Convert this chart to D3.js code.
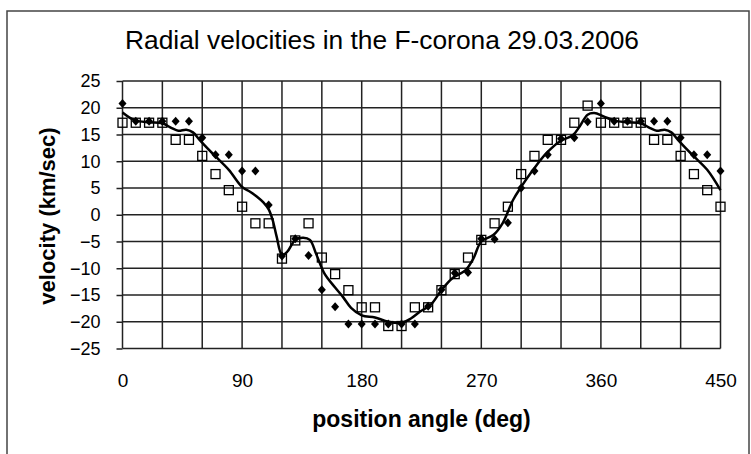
<!DOCTYPE html>
<html>
<head>
<meta charset="utf-8">
<script src="https://cdn.jsdelivr.net/npm/d3@7"></script>
<style>
  body { margin: 0; background: #fff; }
  svg { display: block; }
  text { font-family: "Liberation Sans", Arial, sans-serif; fill: #000; }
</style>
</head>
<body>
<svg width="751" height="454"></svg>
<script>
// position angles (deg) of the measured points
var angles = [0, 10, 20, 30, 40, 50, 60, 70, 80, 90,
              100, 110, 120, 130, 140, 150, 160, 170, 180, 190,
              200, 210, 220, 230, 240, 250, 260, 270, 280, 290,
              300, 310, 320, 330, 340, 350, 360, 370, 380, 390,
              400, 410, 420, 430, 440, 450];

// filled diamonds
var diamonds = [20.8, 17.5, 17.5, 17.5, 17.5, 17.5, 14.4, 11.2, 11.2, 8.2,
                8.2, 1.8, -7.7, -4.5, -7.6, -14.0, -17.2, -20.4, -20.4, -20.4,
                -20.4, -20.4, -20.4, -17.1, -14.0, -10.9, -10.8, -4.5, -4.6, -1.5,
                5.0, 8.2, 11.2, 14.2, 14.4, 17.4, 20.8, 17.5, 17.5, 17.5,
                17.5, 17.5, 14.4, 11.2, 11.2, 8.2];

// open squares
var squares = [17.2, 17.2, 17.2, 17.2, 14.0, 14.0, 11.0, 7.6, 4.6, 1.5,
               -1.6, -1.6, -8.2, -4.8, -1.6, -8.0, -11.1, -14.1, -17.3, -17.3,
               -20.8, -20.8, -17.3, -17.3, -14.1, -11.1, -8.0, -4.7, -1.6, 1.5,
               7.6, 11.0, 14.0, 14.0, 17.2, 20.4, 17.2, 17.2, 17.2, 17.2,
               14.0, 14.0, 11.0, 7.6, 4.6, 1.5];

// smoothed curve
var fitAngles = [0, 5, 10, 20, 30, 37, 42, 48, 53, 58, 64, 70, 80, 90, 96, 101, 106, 110,
                 113, 116, 120, 124, 130, 136, 141, 146, 152, 160, 166, 172, 180, 190,
                 200, 210, 217, 224, 232, 240, 248, 258, 264, 270, 279, 286, 294, 300,
                 309, 319, 329, 339, 344, 350, 355, 362, 370, 380, 390, 397, 402, 408,
                 413, 418, 424, 430, 440, 450];
var fitValues = [19.1, 18.2, 17.6, 17.3, 17.1, 16.2, 15.7, 15.9, 15.4, 14.0, 12.4, 10.9, 8.4, 5.2, 4.3, 3.4, 2.3, 1.0,
                 -1.0, -4.1, -7.5, -6.9, -4.7, -4.3, -4.7, -7.5, -11.0, -13.6, -15.4, -17.4, -18.8, -19.2,
                 -20.0, -20.2, -19.4, -18.1, -16.8, -14.1, -11.9, -10.4, -8.2, -5.0, -3.8, -1.6, 2.8, 5.2,
                 8.4, 11.5, 13.7, 14.9, 16.5, 18.7, 19.0, 18.4, 17.6, 17.3, 17.1, 16.2, 15.7, 15.9,
                 15.4, 14.0, 12.4, 10.9, 8.4, 4.6];

var xTicks = [0, 90, 180, 270, 360, 450];
var yTicks = [-25, -20, -15, -10, -5, 0, 5, 10, 15, 20, 25];

var svg = d3.select("svg"),
    plotL = 122.5, plotR = 720.5, plotT = 81, plotB = 348.5;

var x = d3.scaleLinear().domain([0, 450]).range([plotL, plotR]),
    y = d3.scaleLinear().domain([-25, 25]).range([plotB, plotT]);

// outer frame
svg.append("rect")
    .attr("x", 7).attr("y", 11).attr("width", 742).attr("height", 470)
    .attr("fill", "none").attr("stroke", "#444").attr("stroke-width", 1.5);

// title
svg.append("text")
    .attr("x", 382).attr("y", 49)
    .attr("text-anchor", "middle")
    .attr("font-size", 25)
    .attr("textLength", 514).attr("lengthAdjust", "spacingAndGlyphs")
    .text("Radial velocities  in the F-corona 29.03.2006");

// grid
var grid = svg.append("g").attr("stroke", "#222").attr("stroke-width", 1.5);
grid.selectAll(".v").data(d3.range(0, 451, 30)).enter().append("line")
    .attr("x1", function(d) { return x(d); }).attr("x2", function(d) { return x(d); })
    .attr("y1", plotT).attr("y2", plotB);
grid.selectAll(".h").data(yTicks).enter().append("line")
    .attr("x1", plotL).attr("x2", plotR)
    .attr("y1", function(d) { return y(d); }).attr("y2", function(d) { return y(d); });

// axes
var yAxis = svg.append("g")
    .attr("transform", "translate(" + plotL + ",0)")
    .call(d3.axisLeft(y).tickValues(yTicks).tickSize(6).tickPadding(16));
yAxis.select(".domain").remove();
yAxis.selectAll("line").attr("stroke", "#222").attr("stroke-width", 1.5);
yAxis.attr("font-size", 18).attr("font-family", null);

var xAxis = svg.append("g")
    .attr("transform", "translate(0," + plotB + ")")
    .call(d3.axisBottom(x).tickValues(xTicks).tickSize(0).tickPadding(25));
xAxis.select(".domain").remove();
xAxis.attr("font-size", 19).attr("font-family", null);

// axis titles
svg.append("text")
    .attr("x", 421.5).attr("y", 427)
    .attr("text-anchor", "middle")
    .attr("font-size", 23).attr("font-weight", "bold")
    .text("position angle (deg)");

svg.append("text")
    .attr("transform", "translate(55,216) rotate(-90)")
    .attr("text-anchor", "middle")
    .attr("font-size", 22).attr("font-weight", "bold")
    .text("velocity  (km/sec)");

// squares
svg.append("g").selectAll("rect").data(angles).enter().append("rect")
    .attr("x", function(d) { return x(d) - 4.5; })
    .attr("y", function(d, i) { return y(squares[i]) - 4.5; })
    .attr("width", 9).attr("height", 9)
    .attr("fill", "none").attr("stroke", "#000").attr("stroke-width", 1.3);

// diamonds
svg.append("g").selectAll("path").data(angles).enter().append("path")
    .attr("d", "M0,-4.5L4,0L0,4.5L-4,0Z")
    .attr("transform", function(d, i) { return "translate(" + x(d) + "," + y(diamonds[i]) + ")"; })
    .attr("fill", "#000");

// smoothed curve
var line = d3.line()
    .x(function(d) { return x(d); })
    .y(function(d, i) { return y(fitValues[i]); })
    .curve(d3.curveCatmullRom);

svg.append("path")
    .datum(fitAngles)
    .attr("d", line)
    .attr("fill", "none").attr("stroke", "#000").attr("stroke-width", 2.5);
</script>
</body>
</html>
